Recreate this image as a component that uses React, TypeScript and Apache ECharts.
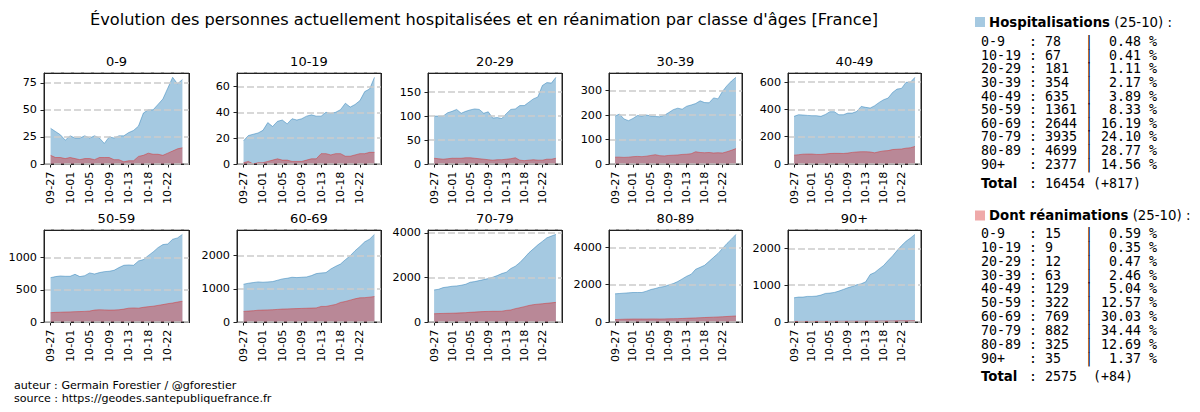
import React, { useEffect, useRef } from "react";
import * as echarts from "echarts";

const AGES = ["0-9", "10-19", "20-29", "30-39", "40-49", "50-59", "60-69", "70-79", "80-89", "90+"];

const DATES = [
  "09-27", "09-28", "09-29", "09-30", "10-01", "10-02", "10-03", "10-04", "10-05", "10-06",
  "10-07", "10-08", "10-09", "10-10", "10-11", "10-12", "10-13", "10-14", "10-15", "10-16",
  "10-18", "10-19", "10-20", "10-21", "10-22", "10-23", "10-24", "10-25",
];
const TICK_IDX = [0, 4, 8, 12, 16, 20, 24];

const HOSP_0_9 = [33, 30, 27, 22, 26, 24, 24, 26, 24, 26, 24, 19, 25, 24, 26, 26, 29, 31, 35, 47, 50, 50, 55, 60, 70, 80, 74, 78];
const HOSP_10_19 = [18, 22, 23, 24, 26, 32, 29, 33, 34, 31, 35, 34, 35, 37, 38, 37, 37, 40, 39, 40, 42, 47, 44, 46, 49, 56, 58, 67];
const HOSP_20_29 = [100, 100, 100, 107, 110, 114, 106, 110, 113, 115, 114, 106, 109, 96, 97, 95, 105, 114, 115, 122, 122, 129, 136, 140, 164, 170, 169, 181];
const HOSP_30_39 = [196, 204, 184, 177, 186, 198, 196, 200, 196, 194, 193, 199, 210, 222, 228, 224, 236, 241, 247, 258, 251, 250, 270, 266, 297, 320, 339, 354];
const HOSP_40_49 = [349, 361, 359, 356, 354, 354, 349, 363, 383, 383, 361, 361, 373, 373, 385, 422, 415, 410, 427, 451, 471, 483, 524, 549, 554, 598, 600, 635];
const HOSP_50_59 = [689, 705, 715, 710, 710, 741, 705, 720, 762, 746, 767, 782, 788, 803, 845, 881, 886, 881, 948, 969, 1031, 1088, 1155, 1202, 1212, 1285, 1306, 1361];
const HOSP_60_69 = [1140, 1170, 1190, 1210, 1200, 1210, 1220, 1260, 1300, 1320, 1350, 1340, 1350, 1360, 1400, 1460, 1480, 1490, 1600, 1680, 1750, 1880, 2000, 2150, 2280, 2420, 2500, 2644];
const HOSP_70_79 = [1440, 1470, 1545, 1575, 1605, 1620, 1650, 1695, 1785, 1815, 1860, 1905, 1950, 2010, 2085, 2175, 2235, 2400, 2505, 2670, 2880, 3105, 3285, 3465, 3620, 3780, 3860, 3935];
const HOSP_80_89 = [1511, 1529, 1547, 1564, 1582, 1582, 1582, 1653, 1742, 1796, 1867, 1902, 1991, 2062, 2169, 2311, 2453, 2560, 2827, 2933, 3040, 3253, 3467, 3680, 3947, 4213, 4444, 4699];
const HOSP_90P = [657, 676, 676, 694, 694, 703, 730, 775, 784, 802, 838, 883, 928, 964, 1009, 1036, 1090, 1288, 1342, 1441, 1532, 1667, 1793, 1937, 2072, 2189, 2279, 2377];

const REA_0_9 = [8, 6, 6, 5, 6, 5, 4, 5, 5, 4, 6, 6, 6, 4, 4, 2, 3, 3, 7, 8, 10, 9, 9, 8, 10, 12, 14, 15];
const REA_10_19 = [1, 2, 0, 1, 1, 2, 3, 4, 3, 3, 2, 2, 2, 3, 4, 4, 8, 8, 7, 8, 8, 6, 6, 7, 8, 8, 9, 9];
const REA_20_29 = [12, 11, 10, 11, 12, 12, 12, 13, 13, 12, 11, 10, 9, 8, 9, 9, 10, 11, 13, 8, 7, 8, 9, 8, 8, 10, 10, 12];
const REA_30_39 = [28, 28, 27, 28, 30, 31, 30, 32, 35, 38, 34, 33, 35, 36, 37, 39, 40, 42, 50, 47, 46, 47, 45, 46, 45, 50, 56, 63];
const REA_40_49 = [65, 68, 72, 73, 73, 70, 70, 73, 77, 78, 78, 77, 80, 85, 88, 90, 90, 88, 82, 90, 96, 98, 106, 108, 110, 116, 119, 129];
const REA_50_59 = [145, 150, 152, 155, 157, 160, 162, 165, 170, 185, 190, 188, 185, 186, 190, 200, 215, 218, 215, 228, 238, 245, 258, 270, 285, 295, 310, 322];
const REA_60_69 = [320, 330, 340, 355, 360, 365, 370, 380, 390, 395, 400, 405, 410, 415, 420, 425, 470, 470, 500, 530, 590, 620, 660, 700, 730, 735, 750, 769];
const REA_70_79 = [370, 380, 385, 390, 395, 400, 410, 420, 435, 445, 460, 470, 475, 480, 480, 485, 520, 540, 600, 640, 690, 740, 780, 800, 820, 840, 860, 882];
const REA_80_89 = [130, 140, 150, 155, 160, 160, 160, 160, 165, 165, 160, 165, 170, 175, 180, 190, 200, 210, 220, 230, 240, 250, 260, 270, 280, 295, 310, 325];
const REA_90P = [15, 15, 16, 16, 17, 17, 18, 18, 18, 19, 20, 20, 21, 22, 22, 23, 24, 25, 26, 27, 28, 29, 30, 31, 32, 33, 34, 35];

const HOSP = [HOSP_0_9, HOSP_10_19, HOSP_20_29, HOSP_30_39, HOSP_40_49, HOSP_50_59, HOSP_60_69, HOSP_70_79, HOSP_80_89, HOSP_90P];
const REA = [REA_0_9, REA_10_19, REA_20_29, REA_30_39, REA_40_49, REA_50_59, REA_60_69, REA_70_79, REA_80_89, REA_90P];
const Y_INTERVAL = [25, 20, 50, 100, 200, 500, 1000, 2000, 2000, 1000];

const HOSP_LAST = [78, 67, 181, 354, 635, 1361, 2644, 3935, 4699, 2377];
const HOSP_PCT = ["0.48", "0.41", "1.11", "2.17", "3.89", "8.33", "16.19", "24.10", "28.77", "14.56"];
const REA_LAST = [15, 9, 12, 63, 129, 322, 769, 882, 325, 35];
const REA_PCT = ["0.59", "0.35", "0.47", "2.46", "5.04", "12.57", "30.03", "34.44", "12.69", "1.37"];
const HOSP_TOTAL = "16454 (+817)";
const REA_TOTAL = "2575  (+84)";
const LAST_DATE = "25-10";

const TITLE = "Évolution des personnes actuellement hospitalisées et en réanimation par classe d'âges [France]";
const CREDIT_1 = "auteur : Germain Forestier / @gforestier";
const CREDIT_2 = "source : https://geodes.santepubliquefrance.fr";

// layout
const COL_LEFT = [44, 237, 428, 609, 788];
const COL_W = [145, 144, 134, 133, 133];
const ROW_TOP = [73, 230];
const ROW_H = [91, 92];

const FONT = "DejaVu Sans";
const MONO = "DejaVu Sans Mono";
const BLUE_FILL = "rgba(31,119,180,0.4)";
const BLUE_EDGE = "rgba(31,119,180,0.45)";
const RED_FILL = "rgba(214,39,40,0.4)";
const RED_EDGE = "rgba(214,39,40,0.45)";
const FRAME = "#222222";

export default function App() {
  const ref = useRef<HTMLDivElement>(null);
  useEffect(() => {
    if (!ref.current) return;
    const chart = echarts.init(ref.current, null, { renderer: "svg" });

    const grids: any[] = [];
    const xAxes: any[] = [];
    const yAxes: any[] = [];
    const series: any[] = [];
    const graphics: any[] = [];
    const axisLine = { show: true, onZero: false, lineStyle: { color: FRAME, width: 1 } };

    AGES.forEach((age, i) => {
      const r = Math.floor(i / 5);
      const c = i % 5;
      const left = COL_LEFT[c];
      const top = ROW_TOP[r];
      const w = COL_W[c];
      const h = ROW_H[r];
      grids.push({ left, top, width: w, height: h, show: true, borderColor: FRAME, borderWidth: 1 });
      const n = HOSP[i].length;
      const pad = (n - 1) * 0.05;
      const max = Math.max(...HOSP[i]) * 1.05;
      xAxes.push({
        type: "value", gridIndex: i, min: -pad, max: n - 1 + pad, position: "bottom",
        axisLine,
        axisTick: { show: true, length: 3.5, inside: false, customValues: TICK_IDX, lineStyle: { color: FRAME } },
        axisLabel: {
          show: true, customValues: TICK_IDX, rotate: 90, margin: 7.5,
          formatter: (v: number) => DATES[Math.round(v)] ?? "",
          fontFamily: FONT, fontSize: 11.2, color: "#000",
        },
        splitLine: { show: false },
      });
      yAxes.push({
        type: "value", gridIndex: i, min: 0, max, interval: Y_INTERVAL[i], position: "left", z: 5,
        axisLine,
        axisTick: { show: true, length: 3.5, inside: false, lineStyle: { color: FRAME } },
        axisLabel: {
          show: true, showMaxLabel: false, margin: 7,
          formatter: (v: number) => String(v),
          fontFamily: FONT, fontSize: 11.2, color: "#000",
        },
        splitLine: { show: true, lineStyle: { color: "#cccccc", width: 1.5, type: [7, 3] } },
      });
      series.push({
        type: "line", xAxisIndex: i, yAxisIndex: i, showSymbol: false, symbol: "none",
        data: HOSP[i].map((v, j) => [j, v]),
        lineStyle: { color: BLUE_EDGE, width: 1 },
        areaStyle: { color: BLUE_FILL, opacity: 1 },
        z: 2, silent: true,
      });
      series.push({
        type: "line", xAxisIndex: i, yAxisIndex: i, showSymbol: false, symbol: "none",
        data: REA[i].map((v, j) => [j, v]),
        lineStyle: { color: RED_EDGE, width: 1 },
        areaStyle: { color: RED_FILL, opacity: 1 },
        z: 3, silent: true,
      });
      // top and right spines
      graphics.push({
        type: "line", z: 100,
        shape: { x1: left, y1: top + 0.5, x2: left + w + 1, y2: top + 0.5 },
        style: { stroke: FRAME, lineWidth: 1 },
      });
      graphics.push({
        type: "line", z: 100,
        shape: { x1: left + w + 0.5, y1: top, x2: left + w + 0.5, y2: top + h + 1 },
        style: { stroke: FRAME, lineWidth: 1 },
      });
      graphics.push({
        type: "text", x: left + w / 2, y: top - 11.5,
        style: { text: age, fontFamily: FONT, fontSize: 13, fill: "#000", textAlign: "center", textVerticalAlign: "middle" },
      });
    });

    // main title
    graphics.push({
      type: "text", x: 484, y: 19,
      style: { text: TITLE, fontFamily: FONT, fontSize: 16.2, fill: "#000", textAlign: "center", textVerticalAlign: "middle" },
    });
    // credits
    graphics.push({
      type: "text", x: 14, y: 385,
      style: { text: CREDIT_1, fontFamily: FONT, fontSize: 11.1, fill: "#000", textAlign: "left", textVerticalAlign: "middle" },
    });
    graphics.push({
      type: "text", x: 14, y: 398,
      style: { text: CREDIT_2, fontFamily: FONT, fontSize: 11.1, fill: "#000", textAlign: "left", textVerticalAlign: "middle" },
    });

    // side tables
    const CW = 8.0;
    const X0 = 981;
    const FS = 13.3;
    const block = (headerY: number, rowY0: number, rowStep: number, totalY: number, color: string, title: string, vals: number[], pcts: string[], total: string) => {
      graphics.push({ type: "rect", shape: { x: 975, y: headerY - 5, width: 10, height: 10 }, style: { fill: color } });
      graphics.push({
        type: "text", x: 989, y: headerY,
        style: {
          text: `{b|${title}} (${LAST_DATE}) :`,
          fontFamily: FONT, fontSize: FS, fill: "#000", textVerticalAlign: "middle",
          rich: { b: { fontFamily: FONT, fontSize: FS, fontWeight: "bold", fill: "#000" } },
        },
      });
      AGES.forEach((age, k) => {
        const y = rowY0 + k * rowStep;
        const st = { fontFamily: MONO, fontSize: FS, fill: "#000", textVerticalAlign: "middle" };
        graphics.push({ type: "text", x: X0, y, style: { ...st, text: age, textAlign: "left" } });
        graphics.push({ type: "text", x: X0 + 6 * CW, y, style: { ...st, text: ":", textAlign: "left" } });
        graphics.push({ type: "text", x: X0 + 8 * CW, y, style: { ...st, text: String(vals[k]), textAlign: "left" } });
        graphics.push({ type: "text", x: X0 + 13 * CW, y, style: { ...st, text: "|", textAlign: "left" } });
        graphics.push({ type: "text", x: X0 + 20 * CW, y, style: { ...st, text: pcts[k], textAlign: "right" } });
        graphics.push({ type: "text", x: X0 + 21 * CW, y, style: { ...st, text: "%", textAlign: "left" } });
      });
      graphics.push({
        type: "text", x: X0, y: totalY,
        style: { text: "Total", fontFamily: FONT, fontSize: FS, fontWeight: "bold", fill: "#000", textVerticalAlign: "middle" },
      });
      graphics.push({
        type: "text", x: X0 + 6 * CW, y: totalY,
        style: { text: ":", fontFamily: MONO, fontSize: FS, fill: "#000", textVerticalAlign: "middle" },
      });
      const parts = total.split(/(\s+)/);
      let col = 8;
      parts.forEach((p) => {
        if (p.trim() !== "") {
          graphics.push({
            type: "text", x: X0 + col * CW, y: totalY,
            style: { text: p, fontFamily: MONO, fontSize: FS, fill: "#000", textVerticalAlign: "middle" },
          });
        }
        col += p.length;
      });
    };
    block(22, 41.7, 13.6, 183.3, BLUE_FILL, "Hospitalisations", HOSP_LAST, HOSP_PCT, HOSP_TOTAL);
    block(215.5, 233.3, 13.9, 376.7, RED_FILL, "Dont réanimations", REA_LAST, REA_PCT, REA_TOTAL);

    chart.setOption({
      animation: false,
      textStyle: { fontFamily: FONT },
      grid: grids,
      xAxis: xAxes,
      yAxis: yAxes,
      series,
      graphic: graphics,
    });
    return () => chart.dispose();
  }, []);
  return <div ref={ref} style={{ position: "fixed", left: 0, top: 0, width: 1200, height: 412, background: "#fff" }} />;
}
